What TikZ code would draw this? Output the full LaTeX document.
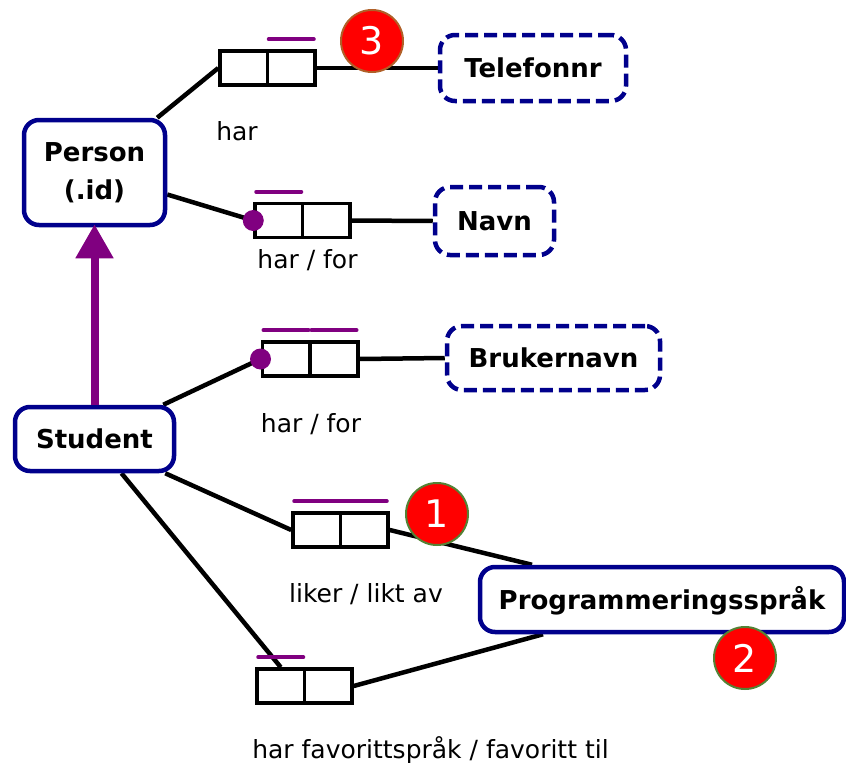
\documentclass[tikz,border=0pt]{standalone}
\usepackage{fontspec}
\setmainfont{DejaVu Sans}
\usetikzlibrary{arrows.meta,backgrounds}

\definecolor{entnavy}{RGB}{0,0,140}
\definecolor{rolepurple}{RGB}{128,0,128}
\definecolor{badgered}{RGB}{255,0,0}
\definecolor{ringbrown}{RGB}{176,96,40}
\definecolor{ringgreen}{RGB}{84,130,53}

\tikzset{
  x=1pt, y=-1pt,
  entbase/.style={draw=entnavy, line width=4.5pt, rounded corners=15pt, fill=white,
    font=\fontsize{26}{38}\selectfont\bfseries, align=center, inner sep=0pt},
  entity/.style={entbase, text height=19pt, text depth=0pt},
  valuebox/.style={entity, dash pattern=on 13pt off 6pt},
  cell/.style={draw=black, line width=3.5pt, fill=white, minimum width=47.5pt,
    minimum height=34pt, inner sep=0pt},
  link/.style={draw=black, line width=4.5pt},
  uniq/.style={draw=rolepurple, line width=4pt, line cap=round},
  roledot/.style={circle, fill=rolepurple, minimum size=21pt, inner sep=0pt},
  badge/.style={circle, fill=badgered, line width=2pt, minimum size=62pt,
    inner sep=0pt, text=white, font=\fontsize{38}{38}\selectfont},
  rolelabel/.style={anchor=base, font=\fontsize{25}{30}\selectfont},
}

\begin{document}
\begin{tikzpicture}
\useasboundingbox (0,0) rectangle (846,763);

% object types
\node[entbase, minimum width=141pt, minimum height=105pt] (person) at (94.5,172.5) {Person\\(.id)};
\node[entity, minimum width=159pt, minimum height=64pt] (student) at (94.5,439) {Student};
\node[entity, minimum width=364pt, minimum height=65pt] (prog) at (662,599.5) {Programmeringsspråk};

% value types
\node[valuebox, minimum width=186pt, minimum height=66pt] (tlf) at (533,68) {Telefonnr};
\node[valuebox, minimum width=119pt, minimum height=68pt] (navn) at (494.5,221) {Navn};
\node[valuebox, minimum width=213pt, minimum height=64pt] (bruker) at (553.5,358) {Brukernavn};

% fact type role boxes
\node[cell] (r1a) at (243.75,68) {};
\node[cell] (r1b) at (291.25,68) {};
\node[cell] (r2a) at (278.75,220.5) {};
\node[cell] (r2b) at (326.25,220.5) {};
\node[cell] (r3a) at (286,359) {};
\node[cell] (r3b) at (334,359) {};
\node[cell] (r4a) at (316.75,530) {};
\node[cell] (r4b) at (364.25,530) {};
\node[cell] (r5a) at (280.75,686) {};
\node[cell] (r5b) at (328.25,686) {};

% mandatory role dots
\node[roledot] (m2) at (r2a.west) {};
\node[roledot] (m3) at (r3a.west) {};

% connectors
\begin{scope}[on background layer]
  \draw[link] ([xshift=-10pt]person.north east) -- (r1a.west);
  \draw[link] (r1b.east) -- (tlf.west);
  \draw[link] ([yshift=-22pt]person.east) -- (m2.center);
  \draw[link] (r2b.east) -- (navn.west);
  \draw[link] ([xshift=-13pt]student.north east) -- (m3.center);
  \draw[link] (r3b.east) -- (bruker.west);
  \draw[link] ([xshift=-11pt]student.south east) -- (r4a.west);
  \draw[link] (r4b.east) -- ([xshift=-130pt]prog.north);
  \draw[link] ([xshift=27pt]student.south) -- (r5a.north);
  \draw[link] (r5b.east) -- ([xshift=-119pt]prog.south);
\end{scope}

% subtype arrow
\draw[rolepurple, line width=8pt, -{Triangle[width=36pt,length=34pt]}]
  (student.north) -- ([yshift=3pt]person.south);

% uniqueness constraints
\draw[uniq] ([xshift=3pt,yshift=10pt]r1b.north west) -- ([xshift=-3pt,yshift=10pt]r1b.north east);
\draw[uniq] ([xshift=3pt,yshift=10pt]r2a.north west) -- ([xshift=-3pt,yshift=10pt]r2a.north east);
\draw[uniq] ([xshift=3pt,yshift=10pt]r3a.north west) -- ([xshift=-3pt,yshift=10pt]r3a.north east);
\draw[uniq] ([xshift=3pt,yshift=10pt]r3b.north west) -- ([xshift=-3pt,yshift=10pt]r3b.north east);
\draw[uniq] ([xshift=3pt,yshift=10pt]r4a.north west) -- ([xshift=-3pt,yshift=10pt]r4b.north east);
\draw[uniq] ([xshift=3pt,yshift=10pt]r5a.north west) -- ([xshift=-3pt,yshift=10pt]r5a.north east);

% fact type readings
\node[rolelabel] (l1) at (237,140) {har};
\node[rolelabel] (l2) at (307.5,268) {har / for};
\node[rolelabel] (l3) at (311,432) {har / for};
\node[rolelabel] (l4) at (366,602) {liker / likt av};
\node[rolelabel] (l5) at (430.5,758) {har favorittspråk / favoritt til};

% numbered markers
\node[badge, draw=ringbrown] (n3) at (372,41) {3};
\node[badge, draw=ringgreen] (n1) at (437,514) {1};
\node[badge, draw=ringgreen] (n2) at (745,658) {2};
\end{tikzpicture}
\end{document}
